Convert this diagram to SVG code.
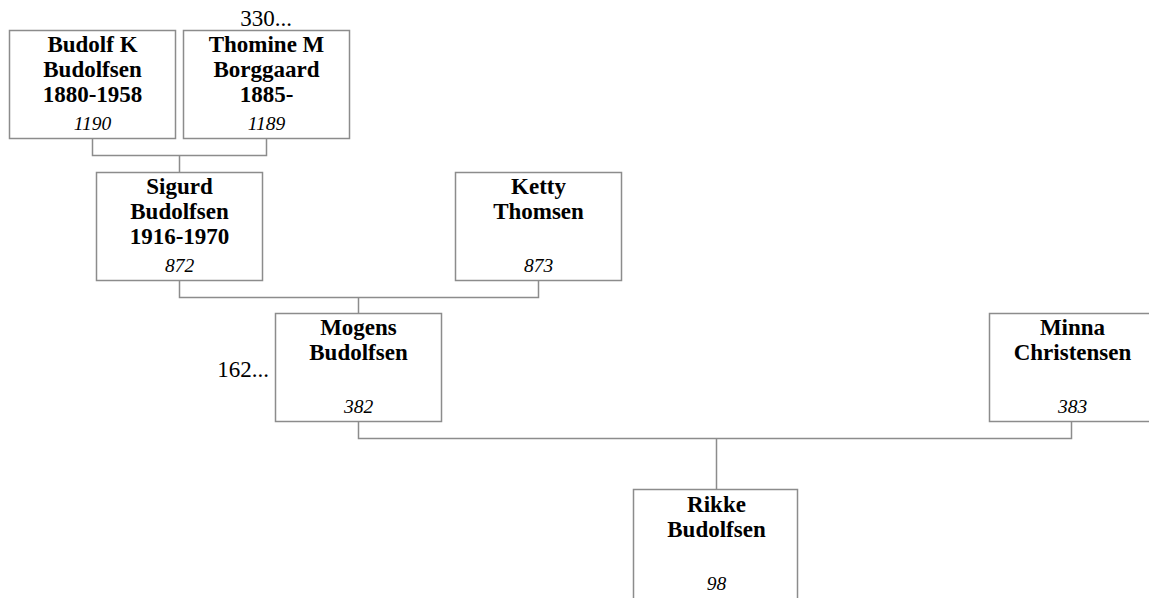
<svg xmlns="http://www.w3.org/2000/svg" width="1149" height="598" viewBox="0 0 1149 598">
<style>
.box{fill:#fff;stroke:#8c8c8c;stroke-width:1.5}
.n{font-family:"Liberation Serif",serif;font-weight:bold;font-size:23px;text-anchor:middle;fill:#000}
.id{font-family:"Liberation Serif",serif;font-style:italic;font-size:19.5px;text-anchor:middle;fill:#000}
.m{font-family:"Liberation Serif",serif;font-size:23px;fill:#000}
.c{fill:none;stroke:#8c8c8c;stroke-width:1.5}
</style>
<rect width="1149" height="598" fill="#fff"/>
<g id="connectors">
<path class="c" d="M92.5 139 V155.5 H266.5 V139 M179.5 155.5 V172"/>
<path class="c" d="M179.5 281 V297.5 H538.5 V281 M358.5 297.5 V313"/>
<path class="c" d="M358.5 422 V438.5 H1071.5 V422 M716.5 438.5 V489"/>
</g>
<g id="budolf">
<rect class="box" x="9.5" y="30.5" width="166" height="108"/>
<text class="n" x="92.5" y="52">Budolf K</text>
<text class="n" x="92.5" y="77">Budolfsen</text>
<text class="n" x="92.5" y="102">1880-1958</text>
<text class="id" x="92.5" y="130">1190</text>
</g>
<g id="thomine">
<text class="m" x="266" y="26" text-anchor="middle">330...</text>
<rect class="box" x="183.5" y="30.5" width="166" height="108"/>
<text class="n" x="266.5" y="52">Thomine M</text>
<text class="n" x="266.5" y="77">Borggaard</text>
<text class="n" x="266.5" y="102">1885-</text>
<text class="id" x="266.5" y="130">1189</text>
</g>
<g id="sigurd">
<rect class="box" x="96.5" y="172.5" width="166" height="108"/>
<text class="n" x="179.5" y="194">Sigurd</text>
<text class="n" x="179.5" y="219">Budolfsen</text>
<text class="n" x="179.5" y="244">1916-1970</text>
<text class="id" x="179.5" y="272">872</text>
</g>
<g id="ketty">
<rect class="box" x="455.5" y="172.5" width="166" height="108"/>
<text class="n" x="538.5" y="194">Ketty</text>
<text class="n" x="538.5" y="219">Thomsen</text>
<text class="id" x="538.5" y="272">873</text>
</g>
<g id="mogens">
<text class="m" x="269" y="377" text-anchor="end">162...</text>
<rect class="box" x="275.5" y="313.5" width="166" height="108"/>
<text class="n" x="358.5" y="335">Mogens</text>
<text class="n" x="358.5" y="360">Budolfsen</text>
<text class="id" x="358.5" y="413">382</text>
</g>
<g id="minna">
<rect class="box" x="989.5" y="313.5" width="166" height="108"/>
<text class="n" x="1072.5" y="335">Minna</text>
<text class="n" x="1072.5" y="360">Christensen</text>
<text class="id" x="1072.5" y="413">383</text>
</g>
<g id="rikke">
<rect class="box" x="633.5" y="489.5" width="164" height="120"/>
<text class="n" x="716.5" y="512">Rikke</text>
<text class="n" x="716.5" y="537">Budolfsen</text>
<text class="id" x="716.5" y="590">98</text>
</g>
</svg>
